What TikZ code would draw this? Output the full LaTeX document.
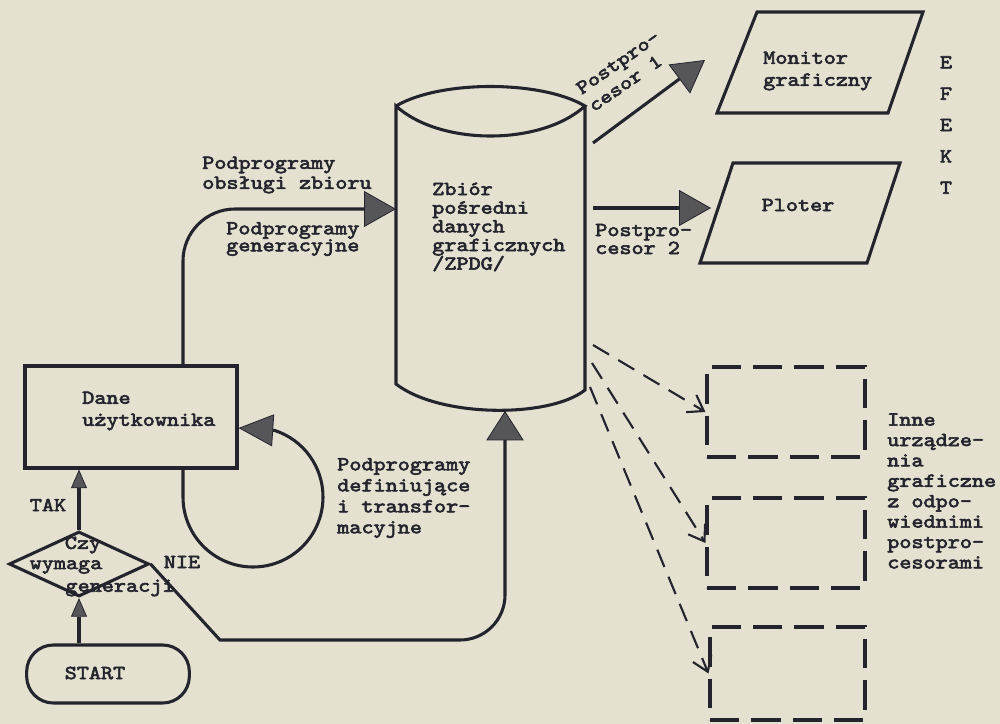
\documentclass[tikz,border=0pt]{standalone}
\usepackage{fontspec}
\newfontfamily\typew{lmmono10-regular.otf}[FakeStretch=1.16,FakeBold=3]
\usetikzlibrary{arrows.meta,shapes.geometric}
\definecolor{paper}{RGB}{229,225,209}
\definecolor{ink}{RGB}{36,36,46}
\definecolor{tipgrey}{RGB}{86,86,88}
\begin{document}
\begin{tikzpicture}[x=0.75pt,y=-0.75pt,
  inkline/.style={draw=ink,line width=2.3pt},
  dashline/.style={draw=ink,line width=1.6pt,dash pattern=on 14pt off 8pt},
  bigtip/.style={-{Triangle[length=24pt,width=27pt,fill=tipgrey,line width=0.6pt]}},
  looptip/.style={-{Triangle[length=26pt,width=24pt,fill=tipgrey,line width=0.6pt]}},
  bottip/.style={-{Triangle[length=22pt,width=28pt,fill=tipgrey,line width=0.6pt]}},
  smalltip/.style={-{Triangle[length=14pt,width=12pt,fill=tipgrey,line width=0.6pt]}},
  opentip/.style={-{Straight Barb[length=11pt,width=15pt,line width=1.6pt]}},
  txt/.style={font=\typew\fontsize{14.9}{#1}\selectfont,text=ink,inner sep=0pt,align=left},
  txt/.default=15,
  userbox/.style={draw=ink,line width=2.3pt,minimum width=159pt,minimum height=76.5pt,inner sep=0pt},
  decision/.style={diamond,draw=ink,line width=2.3pt,minimum width=105pt,minimum height=48.75pt,inner sep=0pt},
  terminal/.style={draw=ink,line width=2.3pt,rounded corners=20pt,minimum width=122pt,minimum height=43.5pt,inner sep=0pt},
  dbox/.style={draw=ink,line width=2.3pt,dash pattern=on 22pt off 9pt,minimum width=118.5pt,minimum height=67.5pt,inner sep=0pt},
]
\useasboundingbox (0,0) rectangle (1000,724);
\fill[paper] (0,0) rectangle (1000,724);

% ---- flowchart on the left
\node[userbox] (dane) at (131,417) {};
\node[txt=16.5,anchor=west] (danetxt) at (82,411) {Dane\\użytkownika};
\node[decision] (dia) at (79,564) {};
\node[txt] (czy) at (83,545) {Czy};
\node[txt] (wym) at (66,567) {wymaga};
\node[txt] (gen) at (120,588) {generacji};
\node[terminal] (start) at (108,674) {};
\node[txt] (starttxt) at (95,673) {START};
\node[txt] (tak) at (48,505) {TAK};
\node[txt] (nie) at (182,562) {NIE};

\draw[inkline,smalltip] (start.north -| dia.south) -- (dia.south);
\draw[inkline,smalltip] (dia.north) -- (dia.north |- dane.south);

% ---- cylinder ZPDG
\coordinate (cTL) at (396,106);
\coordinate (cTR) at (585,106);
\coordinate (cBL) at (396,384);
\coordinate (cBR) at (585,390);
\draw[inkline] (cTL) .. controls (440,80) and (541,80) .. (cTR)
  .. controls (541,146) and (440,146) .. (cTL) -- (cBL)
  .. controls (440,418) and (550,418) .. (cBR) -- (cTR);
\node[txt=14,anchor=west] (zbior) at (432,227) {Zbiór\\pośredni\\danych\\graficznych\\/ZPDG/};

% ---- connectors into the cylinder
\coordinate (genx) at (183,209);
\coordinate (genin) at (396,209);
\draw[inkline,bigtip] (dane.north -| genx) -- (183,261)
  arc[start angle=180,end angle=270,radius=52] -- (genin);
\node[txt=15,anchor=west] (obsl) at (202,175) {Podprogramy\\obsługi zbioru};
\node[txt=12.75,anchor=west] (gener) at (226,239) {Podprogramy\\generacyjne};

\coordinate (loopy) at (0,428);
\draw[inkline,looptip] (dane.south -| genx) -- (183,497)
  arc[start angle=180,end angle=-72,radius=70] -- (dane.east |- loopy);
\node[txt=15.75,anchor=west] (defin) at (337,498) {Podprogramy\\definiujące\\i transfor-\\macyjne};

\coordinate (cylbot) at (505,411);
\draw[inkline,bottip] (dia.east) -- (220,640) -- (460,640)
  arc[start angle=90,end angle=0,radius=45] -- (cylbot);

% ---- output devices
\coordinate (mTL) at (757,12);
\coordinate (mTR) at (923,12);
\coordinate (mBR) at (888,113);
\coordinate (mBL) at (717,113);
\draw[inkline] (mTL) -- (mTR) -- (mBR) -- (mBL) -- cycle;
\node[txt=16.5,anchor=west] (mon) at (763,71) {Monitor\\graficzny};

\coordinate (pTL) at (733,163);
\coordinate (pTR) at (900,163);
\coordinate (pBR) at (867,263);
\coordinate (pBL) at (700,263);
\draw[inkline] (pTL) -- (pTR) -- (pBR) -- (pBL) -- cycle;
\node[txt] (plot) at (798,205) {Ploter};

\node[txt=23.5,align=center] (efekt) at (946,125) {E\\F\\E\\K\\T};

\coordinate (p1s) at (593,143);
\coordinate (p1e) at (705,60);
\draw[inkline,bigtip] (p1s) -- (p1e);
\node[txt=16,rotate=35] (pp1) at (624,71) {Postpro-\\cesor 1};

\coordinate (p2s) at (593,208);
\coordinate (p2e) at (711,208);
\draw[inkline,bigtip] (p2s) -- (p2e);
\node[txt=13.5,anchor=west] (pp2) at (595,239) {Postpro-\\cesor 2};

% ---- other devices
\node[dbox] (b1) at (786,412) {};
\node[dbox] (b2) at (786,543) {};
\node[dbox,minimum width=116.25pt,minimum height=69.75pt] (b3) at (787.5,673.5) {};
\coordinate (d1s) at (593,345);
\coordinate (d2s) at (592,363);
\coordinate (d3s) at (590,387);
\draw[dashline,opentip] (d1s) -- (b1.west);
\draw[dashline,opentip] (d2s) -- (b2.west);
\draw[dashline,opentip] (d3s) -- (b3.west);
\node[txt=15.3,anchor=west] (inne) at (887,491) {Inne\\urządze-\\nia\\graficzne\\z odpo-\\wiednimi\\postpro-\\cesorami};
\end{tikzpicture}
\end{document}
